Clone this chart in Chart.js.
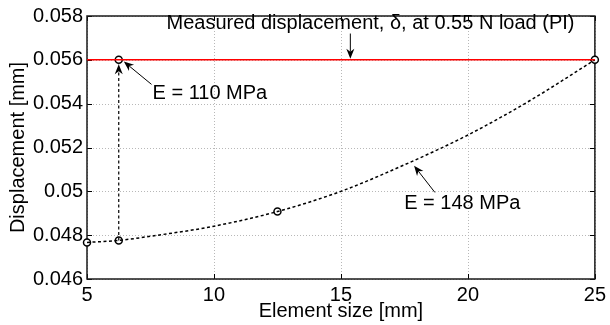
<!DOCTYPE html>
<html>
<head>
<meta charset="utf-8">
<script src="https://cdn.jsdelivr.net/npm/chart.js@4.4.1/dist/chart.umd.min.js"></script>
<style>
  html, body { margin: 0; padding: 0; background: #fff; }
</style>
</head>
<body>
<canvas id="myChart" width="610" height="325"></canvas>
<script>
// fitted curve (E = 148 MPa)
const fitSize = [5, 6.25, 7.5, 10, 12.5, 15, 17.5, 20, 22.5, 25];
const fitDisp = [0.04767, 0.04776, 0.04795, 0.04841, 0.04908, 0.05000, 0.05121, 0.05257, 0.05418, 0.05600];

// simulated points (open circles)
const simSize = [5, 6.25, 12.5, 25];
const simDisp = [0.04767, 0.04776, 0.04908, 0.056];

// measured displacement line
const measSize = [5, 25];
const measDisp = [0.056, 0.056];

// E = 110 MPa point and the jump up to it
const matchSize = [6.25];
const matchDisp = [0.056];
const jumpSize = [6.25, 6.25];
const jumpDisp = [0.04776, 0.0558];

const xTicks = [5, 10, 15, 20, 25];
const yTicks = [0.046, 0.048, 0.05, 0.052, 0.054, 0.056, 0.058];

// annotations in data units
const notes = [
    { text: "Measured displacement, \u03b4, at 0.55 N load (PI)", x: 8.13, y: 0.05764 },
    { text: "E = 110 MPa", x: 7.58, y: 0.05447 },
    { text: "E = 148 MPa", x: 17.49, y: 0.04945 },
];
const arrows = [
    { from: [15.37, 0.0572], to: [15.37, 0.05605], shaft: true },
    { from: [7.54, 0.05488], to: [6.45, 0.05592], shaft: true },
    { from: [18.7, 0.04995], to: [17.88, 0.05117], shaft: true },
    { from: [6.25, 0.055], to: [6.25, 0.0558], shaft: false },
];

const FONT = "'Liberation Sans', Arial, sans-serif";
const FSIZE = 20;

function pts(xs, ys) {
    return xs.map((x, i) => ({ x: x, y: ys[i] }));
}

function drawArrow(ctx, x0, y0, x1, y1, shaft) {
    let ang = Math.atan2(y1 - y0, x1 - x0);
    let len = 10, half = 4, notch = 3;
    let bx = x1 - Math.cos(ang) * len, by = y1 - Math.sin(ang) * len;
    if (shaft) {
        ctx.beginPath();
        ctx.moveTo(x0, y0);
        ctx.lineTo(x1 - Math.cos(ang) * (len - notch), y1 - Math.sin(ang) * (len - notch));
        ctx.stroke();
    }
    let nx = -Math.sin(ang), ny = Math.cos(ang);
    ctx.beginPath();
    ctx.moveTo(x1, y1);
    ctx.lineTo(bx + nx * half, by + ny * half);
    ctx.lineTo(x1 - Math.cos(ang) * (len - notch), y1 - Math.sin(ang) * (len - notch));
    ctx.lineTo(bx - nx * half, by - ny * half);
    ctx.closePath();
    ctx.fill();
}

const overlay = {
    id: "overlay",
    beforeDatasetsDraw(chart) {
        const { ctx, chartArea: a, scales } = chart;
        ctx.save();
        // dotted grid
        ctx.strokeStyle = "#b8b8b8";
        ctx.lineWidth = 1;
        ctx.setLineDash([1, 2]);
        ctx.beginPath();
        xTicks.forEach((t) => {
            let px = Math.round(scales.x.getPixelForValue(t)) + 0.5;
            ctx.moveTo(px, a.top); ctx.lineTo(px, a.bottom);
        });
        yTicks.forEach((t) => {
            let py = Math.round(scales.y.getPixelForValue(t)) + 0.5;
            ctx.moveTo(a.left, py); ctx.lineTo(a.right, py);
        });
        ctx.stroke();
        ctx.setLineDash([]);
        // inward ticks
        ctx.strokeStyle = "#000";
        ctx.beginPath();
        xTicks.forEach((t) => {
            let px = Math.round(scales.x.getPixelForValue(t)) + 0.5;
            ctx.moveTo(px, a.bottom); ctx.lineTo(px, a.bottom - 5);
            ctx.moveTo(px, a.top); ctx.lineTo(px, a.top + 5);
        });
        yTicks.forEach((t) => {
            let py = Math.round(scales.y.getPixelForValue(t)) + 0.5;
            ctx.moveTo(a.left, py); ctx.lineTo(a.left + 5, py);
            ctx.moveTo(a.right, py); ctx.lineTo(a.right - 5, py);
        });
        ctx.stroke();
        ctx.lineWidth = 1.5;
        ctx.strokeStyle = "#1a1a1a";
        ctx.strokeRect(a.left, a.top, a.right - a.left, a.bottom - a.top);
        ctx.restore();
    },
    afterDatasetsDraw(chart) {
        const { ctx, chartArea: a, scales } = chart;
        ctx.save();
        ctx.fillStyle = "#000";
        ctx.strokeStyle = "#000";
        ctx.font = FSIZE + "px " + FONT;
        ctx.textBaseline = "middle";
        ctx.textAlign = "left";
        notes.forEach((n) => {
            ctx.fillText(n.text, scales.x.getPixelForValue(n.x), scales.y.getPixelForValue(n.y));
        });
        ctx.lineWidth = 1;
        arrows.forEach((ar) => {
            drawArrow(ctx,
                scales.x.getPixelForValue(ar.from[0]), scales.y.getPixelForValue(ar.from[1]),
                scales.x.getPixelForValue(ar.to[0]), scales.y.getPixelForValue(ar.to[1]), ar.shaft);
        });
        // axis titles
        ctx.textAlign = "center";
        ctx.fillText("Element size [mm]", (a.left + a.right) / 2, 311);
        ctx.translate(18, (a.top + a.bottom) / 2);
        ctx.rotate(-Math.PI / 2);
        ctx.fillText("Displacement [mm]", 0, 0);
        ctx.restore();
    },
};

const ctx = document.getElementById("myChart");
const chart = new Chart(ctx, {
    type: "scatter",
    data: {
        datasets: [
            {
                data: pts(measSize, measDisp),
                showLine: true,
                borderColor: "#ff0000",
                borderWidth: 1.5,
                pointRadius: 0,
            },
            {
                data: pts(fitSize, fitDisp),
                showLine: true,
                borderColor: "#000",
                borderWidth: 1.5,
                borderDash: [3, 2.5],
                cubicInterpolationMode: "monotone",
                pointRadius: 0,
            },
            {
                data: pts(jumpSize, jumpDisp),
                showLine: true,
                borderColor: "#000",
                borderWidth: 1.2,
                borderDash: [3, 2.5],
                pointRadius: 0,
            },
            {
                data: pts(simSize, simDisp).concat(pts(matchSize, matchDisp)),
                showLine: false,
                pointRadius: 3.5,
                pointBorderWidth: 1.5,
                pointBorderColor: "#000",
                pointBackgroundColor: "#fff",
                clip: false,
            },
        ],
    },
    options: {
        responsive: false,
        animation: false,
        events: [],
        layout: { padding: { top: 14, right: 12, left: 0, bottom: 0 } },
        plugins: { legend: { display: false }, tooltip: { enabled: false } },
        scales: {
            x: {
                type: "linear",
                min: 5,
                max: 25,
                afterFit: (s) => { s.height = 46; },
                afterBuildTicks: (s) => { s.ticks = xTicks.map((v) => ({ value: v })); },
                grid: { display: false, drawTicks: false },
                border: { display: false },
                ticks: {
                    padding: 4,
                    color: "#000",
                    font: { family: FONT, size: FSIZE },
                    maxRotation: 0,
                    callback: (v) => v + "",
                },
            },
            y: {
                type: "linear",
                min: 0.046,
                max: 0.058,
                afterFit: (s) => { s.width = 87; },
                afterBuildTicks: (s) => { s.ticks = yTicks.map((v) => ({ value: v })); },
                grid: { display: false, drawTicks: false },
                border: { display: false },
                ticks: {
                    padding: 4,
                    color: "#000",
                    font: { family: FONT, size: FSIZE },
                    callback: (v) => parseFloat(v.toFixed(3)) + "",
                },
            },
        },
    },
    plugins: [overlay],
});
</script>
</body>
</html>
